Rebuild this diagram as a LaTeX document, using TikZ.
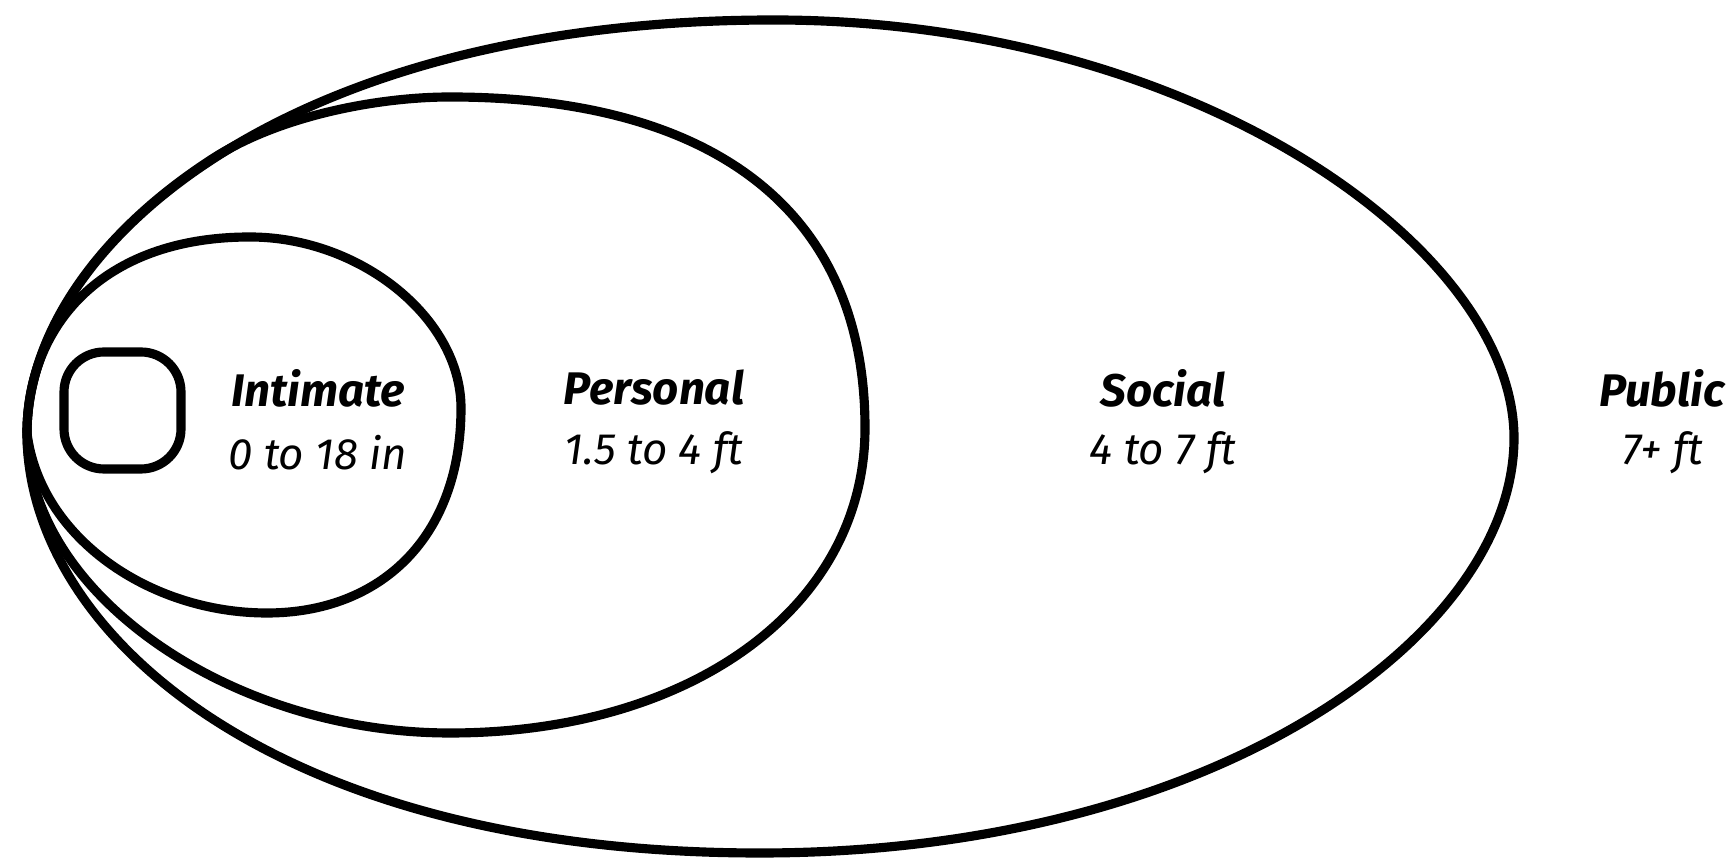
\documentclass[tikz,border=0pt]{standalone}
\usepackage{fontspec}
\setmainfont{Fira Sans}
\usepackage{tikz}
\usetikzlibrary{positioning}

\begin{document}
\begin{tikzpicture}[
  zone/.style={draw=black, line width=2.6pt, line join=round},
  title/.style={font=\fontsize{13}{15}\selectfont\bfseries\itshape},
  dist/.style={font=\fontsize{12.5}{15}\selectfont\itshape}
]
\useasboundingbox (0,0) rectangle (17.33,8.58);

% --- the self ---
\draw[zone, rounded corners=4mm] (0.64,3.89) rectangle (1.81,5.06);

% --- intimate zone ---
\draw[zone] (0.27,4.25) .. controls (0.27,5.3) and (1.0,6.21) .. (2.5,6.21)
  .. controls (3.6,6.21) and (4.61,5.4) .. (4.61,4.5)
  .. controls (4.61,3.2) and (3.8,2.45) .. (2.67,2.45)
  .. controls (1.5,2.45) and (0.4,3.2) .. (0.27,4.25);

% --- personal zone ---
\draw[zone] (0.27,4.25) .. controls (0.27,5.15) and (0.87,6.18) .. (2.12,6.99)
  .. controls (2.8,7.43) and (3.8,7.61) .. (4.5,7.61)
  .. controls (7.1,7.61) and (8.65,6.5) .. (8.65,4.3)
  .. controls (8.65,2.5) and (6.9,1.25) .. (4.5,1.25)
  .. controls (2.3,1.25) and (0.27,2.65) .. (0.27,4.25);

% --- social zone ---
\draw[zone] (0.27,4.25) .. controls (0.27,6.05) and (2.74,8.38) .. (7.74,8.38)
  .. controls (11.94,8.38) and (15.14,6.1) .. (15.14,4.2)
  .. controls (15.14,2.2) and (12.1,0.05) .. (7.6,0.05)
  .. controls (2.74,0.05) and (0.27,2.25) .. (0.27,4.25);

% --- labels ---
\node[title] (intimate)  at (3.18,4.70)  {Intimate};
\node[dist]  (intimateR) at (3.18,4.05)  {0 to 18 in};
\node[title] (personal)  at (6.54,4.70)  {Personal};
\node[dist]  (personalR) at (6.54,4.05)  {1.5 to 4 ft};
\node[title] (social)    at (11.63,4.70) {Social};
\node[dist]  (socialR)   at (11.63,4.05) {4 to 7 ft};
\node[title] (public)    at (16.62,4.70) {Public};
\node[dist]  (publicR)   at (16.63,4.05) {7+ ft};
\end{tikzpicture}
\end{document}
